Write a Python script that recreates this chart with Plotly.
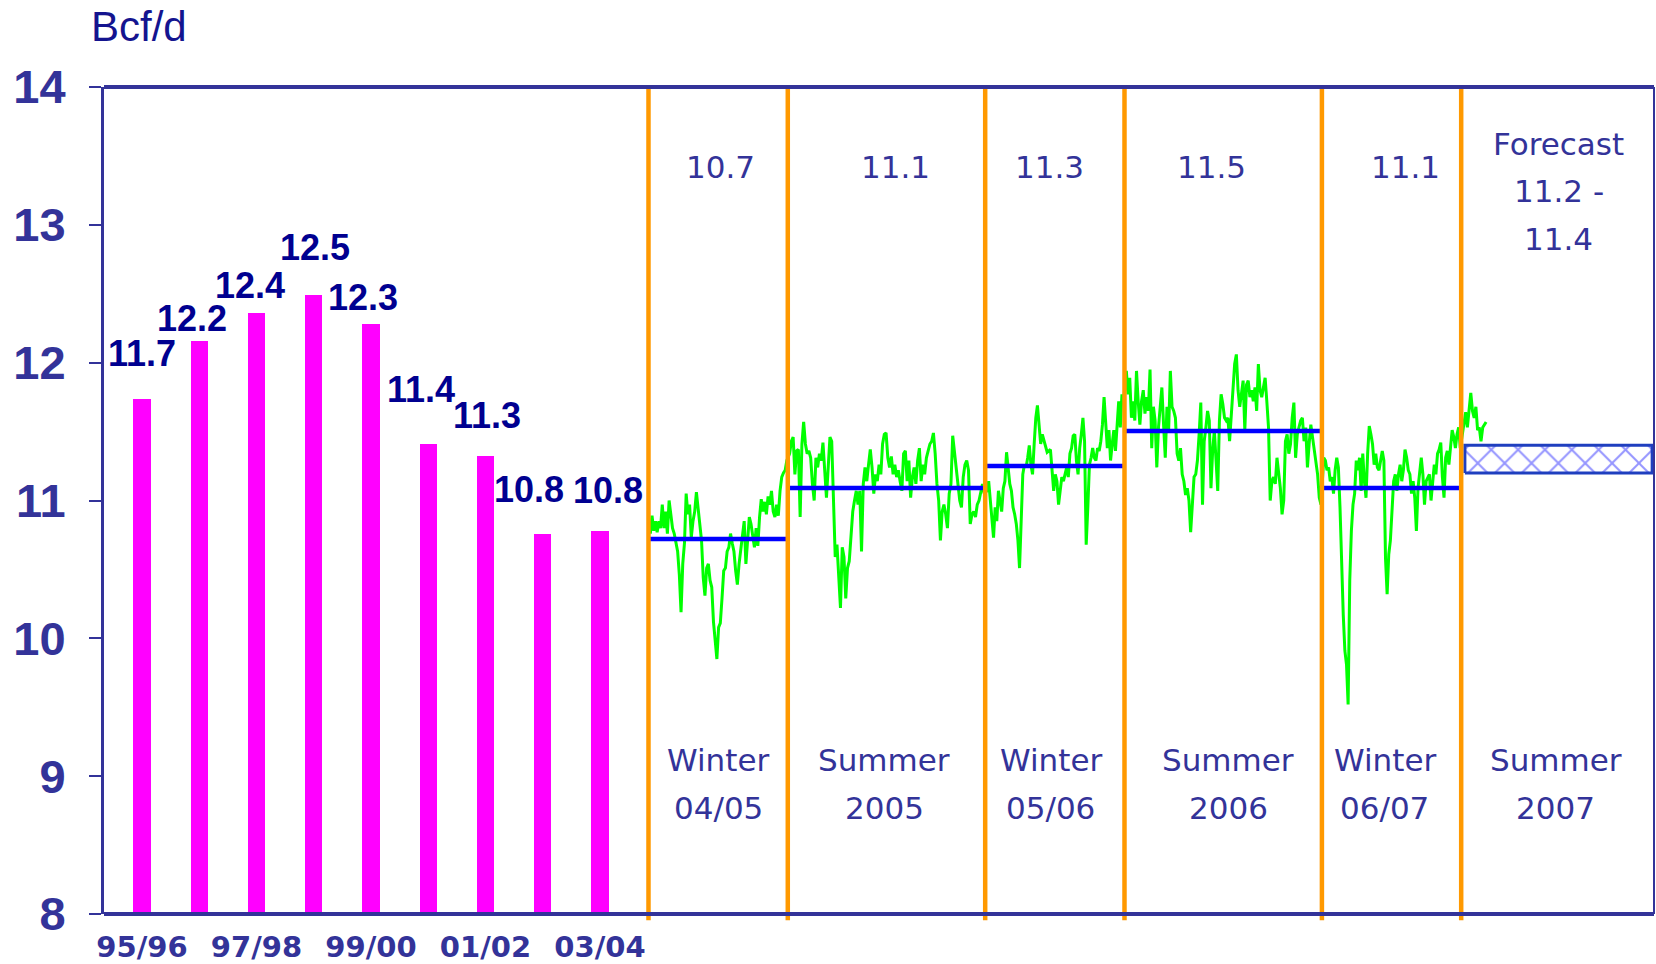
import plotly.graph_objects as go
import pandas as pd

# ---------------- data ----------------
season_labels = ["95/96", "96/97", "97/98", "98/99", "99/00", "00/01", "01/02", "02/03", "03/04"]
season_avg = [11.74, 12.16, 12.36, 12.49, 12.28, 11.41, 11.32, 10.76, 10.78]
season_avg_text = ["11.7", "12.2", "12.4", "12.5", "12.3", "11.4", "11.3", "10.8", "10.8"]
season_tick_idx = [0, 2, 4, 6, 8]

period_start = ["2004-11-01", "2005-04-01", "2005-11-01", "2006-04-01", "2006-11-01", "2007-04-01"]
period_end = ["2005-04-01", "2005-11-01", "2006-04-01", "2006-11-01", "2007-04-01", "2007-11-01"]
period_names = [["Winter", "04/05"], ["Summer", "2005"], ["Winter", "05/06"],
                ["Summer", "2006"], ["Winter", "06/07"], ["Summer", "2007"]]
period_avg = [10.72, 11.09, 11.25, 11.505, 11.09]
period_avg_text = [["10.7"], ["11.1"], ["11.3"], ["11.5"], ["11.1"], ["Forecast", "11.2 -", "11.4"]]
forecast_low = 11.2
forecast_high = 11.4
forecast_end = "2007-10-25"
latest_data_date = "2007-04-28"

w1_daily = [10.76, 10.89, 10.78, 10.85, 10.77, 10.85, 10.80, 10.97, 10.80, 10.92, 10.76, 11.00, 10.90,
            10.80, 10.76, 10.69, 10.63, 10.46, 10.19, 10.54, 10.69, 11.05, 10.90, 10.97, 10.73, 10.85,
            10.92, 11.06, 10.95, 10.85, 10.71, 10.44, 10.31, 10.51, 10.54, 10.42, 10.37, 10.12, 9.95,
            9.85, 10.08, 10.11, 10.29, 10.49, 10.51, 10.63, 10.66, 10.76, 10.69, 10.63, 10.49, 10.39,
            10.54, 10.66, 10.76, 10.85, 10.54, 10.73, 10.88, 10.83, 10.76, 10.66, 10.80, 10.67, 10.88,
            11.01, 10.92, 10.99, 10.90, 11.03, 10.97, 11.07, 10.92, 10.88, 10.97, 10.89, 11.07, 11.17,
            11.20, 11.22, 11.29]
s05_daily = [11.34, 11.43, 11.46, 11.19, 11.36, 11.37, 10.88, 11.41, 11.57, 11.41, 11.34, 11.36, 11.31,
             11.12, 11.00, 11.31, 11.24, 11.34, 11.29, 11.42, 11.17, 11.02, 11.24, 11.46, 11.43, 11.00,
             10.59, 10.68, 10.39, 10.22, 10.66, 10.59, 10.29, 10.51, 10.56, 10.75, 10.92, 11.00, 11.07,
             10.97, 11.07, 10.63, 11.12, 11.24, 11.14, 11.26, 11.37, 11.24, 11.05, 11.19, 11.14, 11.26,
             11.19, 11.41, 11.48, 11.49, 11.31, 11.24, 11.32, 11.19, 11.26, 11.17, 11.22, 11.14, 11.07,
             11.34, 11.36, 11.14, 11.29, 11.02, 11.17, 11.24, 11.12, 11.29, 11.38, 11.14, 11.26, 11.19,
             11.31, 11.36, 11.41, 11.43, 11.49, 11.34, 11.12, 11.00, 10.71, 10.92, 10.97, 10.90, 10.80,
             11.05, 11.12, 11.47, 11.36, 11.22, 11.12, 11.00, 10.95, 11.17, 11.26, 11.29, 11.22, 10.83,
             10.90, 10.92, 10.88, 10.97, 11.00, 11.07, 11.12, 11.05]
w2_daily = [11.07, 11.14, 11.02, 10.85, 10.73, 10.95, 10.85, 11.07, 11.00, 10.92, 11.09, 11.14, 11.35,
            11.22, 11.12, 11.07, 10.95, 10.90, 10.83, 10.71, 10.51, 10.85, 11.19, 11.26, 11.24, 11.31,
            11.40, 11.26, 11.19, 11.41, 11.60, 11.69, 11.55, 11.41, 11.48, 11.43, 11.38, 11.35, 11.36,
            11.37, 11.22, 11.07, 11.19, 11.14, 10.97, 11.09, 11.17, 11.14, 11.19, 11.24, 11.17, 11.34,
            11.38, 11.47, 11.48, 11.29, 11.19, 11.38, 11.48, 11.60, 11.43, 10.68, 10.95, 11.26, 11.31,
            11.38, 11.31, 11.29, 11.38, 11.36, 11.43, 11.55, 11.75, 11.60, 11.38, 11.51, 11.29, 11.41,
            11.51, 11.36, 11.55, 11.72, 11.53, 11.77, 11.72]
s06_daily = [11.94, 11.77, 11.89, 11.60, 11.72, 11.58, 11.94, 11.72, 11.55, 11.72, 11.80, 11.63, 11.75,
             11.65, 11.95, 11.38, 11.68, 11.58, 11.24, 11.53, 11.70, 11.82, 11.55, 11.31, 11.68, 11.51,
             11.94, 11.68, 11.65, 11.60, 11.34, 11.29, 11.38, 11.19, 11.14, 11.04, 11.09, 11.00, 10.77,
             10.95, 11.17, 11.19, 11.29, 11.48, 11.71, 10.97, 11.43, 11.53, 11.65, 11.58, 11.09, 11.36,
             11.51, 11.29, 11.07, 11.58, 11.77, 11.70, 11.60, 11.58, 11.60, 11.43, 11.63, 11.84, 11.99,
             12.06, 11.80, 11.68, 11.77, 11.87, 11.51, 11.84, 11.87, 11.75, 11.80, 11.72, 11.82, 11.65,
             11.99, 11.80, 11.75, 11.82, 11.89, 11.72, 11.53, 11.00, 11.14, 11.17, 11.12, 11.31, 11.19,
             11.09, 10.90, 11.00, 11.43, 11.48, 11.34, 11.41, 11.60, 11.71, 11.31, 11.48, 11.53, 11.58,
             11.60, 11.43, 11.53, 11.24, 11.41, 11.55, 11.46, 11.36, 11.29, 11.19, 11.02, 10.97]
w3_daily = [11.31, 11.29, 11.22, 11.24, 11.14, 11.17, 11.05, 11.22, 11.31, 11.24, 10.95, 10.49, 10.17,
            9.91, 9.81, 9.52, 10.42, 10.78, 10.97, 11.05, 11.29, 11.22, 11.31, 11.07, 11.34, 11.14,
            11.02, 11.34, 11.54, 11.48, 11.41, 11.26, 11.34, 11.24, 11.22, 11.29, 11.36, 11.29, 10.58,
            10.32, 10.61, 10.71, 10.90, 11.14, 11.19, 11.07, 11.19, 11.26, 11.14, 11.22, 11.37, 11.31,
            11.22, 11.19, 11.05, 11.14, 11.02, 10.78, 11.09, 11.22, 11.31, 11.19, 10.97, 11.14, 11.17,
            11.19, 11.00, 11.14, 11.26, 11.19, 11.34, 11.37, 11.42, 11.17, 11.02, 11.31, 11.36, 11.26,
            11.38, 11.51, 11.46, 11.38, 11.48, 11.53, 11.38]
s07_daily = [11.55, 11.64, 11.53, 11.68, 11.78, 11.65, 11.60, 11.68, 11.51, 11.53, 11.43, 11.53, 11.55,
             11.57]

# ---------------- style ----------------
NAVY = "#333399"
LABEL_NAVY = "#000090"
ORANGE = "#ff9900"
bar_label_shift = [(0, 45), (-7, 22), (-7, 28), (1, 48), (-8, 27), (-7, 54), (2, 41), (-14, 44), (8, 40)]
top_label_y = [13.42, 13.42, 13.42, 13.42, 13.42, 13.59]
top_label_xshift = [2, 9, -5, -12, 14, -1]
bottom_label_y = 9.115
bottom_label_xshift = [0, -2, -4, 5, -7, -4]
line_step_px = 47.5

fig = go.Figure()

# historic seasonal averages (bars)
fig.add_trace(go.Bar(
    x=list(range(len(season_avg))), y=season_avg, width=0.3,
    marker=dict(color="#ff00ff", line=dict(width=0)),
    xaxis="x", yaxis="y", hoverinfo="skip"))

# daily data
daily_sets = [w1_daily, s05_daily, w2_daily, s06_daily, w3_daily]
dx, dy = [], []
for i, vals in enumerate(daily_sets):
    s = pd.Timestamp(period_start[i]) + pd.Timedelta(days=2)
    e = pd.Timestamp(period_end[i]) - pd.Timedelta(days=1)
    dx += list(pd.date_range(s, e, periods=len(vals)))
    dy += vals
s = pd.Timestamp(period_start[5]) + pd.Timedelta(days=3)
dx += list(pd.date_range(s, pd.Timestamp(latest_data_date), periods=len(s07_daily)))
dy += s07_daily
fig.add_trace(go.Scatter(x=dx, y=dy, mode="lines", line=dict(color="#00ff00", width=3),
                         xaxis="x2", yaxis="y", hoverinfo="skip"))

# period averages
ax, ay = [], []
for i, v in enumerate(period_avg):
    ax += [pd.Timestamp(period_start[i]), pd.Timestamp(period_end[i]), None]
    ay += [v, v, None]
fig.add_trace(go.Scatter(x=ax, y=ay, mode="lines", line=dict(color="#0000ff", width=4.5),
                         xaxis="x2", yaxis="y", hoverinfo="skip", connectgaps=False))

# forecast band
fs = pd.Timestamp(period_start[5]) + pd.Timedelta(days=4)
fe = pd.Timestamp(forecast_end)
fig.add_trace(go.Scatter(
    x=[fs, fe, fe, fs, fs], y=[forecast_low, forecast_low, forecast_high, forecast_high, forecast_low],
    mode="lines", fill="toself", fillcolor="white",
    fillpattern=dict(shape="x", fgcolor="#2a2aff", bgcolor="white", size=19, solidity=0.2),
    line=dict(color="#1f3fbf", width=3), xaxis="x2", yaxis="y", hoverinfo="skip"))

annotations = []
# axis title
annotations.append(dict(text="Bcf/d", xref="paper", yref="paper", x=-0.0095, y=1.073,
                        xanchor="left", yanchor="middle", showarrow=False,
                        font=dict(family="Liberation Sans, Arial", size=42, color="#14148f")))
# bar labels
for i, t in enumerate(season_avg_text):
    annotations.append(dict(text=t, xref="x", yref="y", x=i, y=season_avg[i],
                            xanchor="center", yanchor="middle", showarrow=False,
                            xshift=bar_label_shift[i][0], yshift=bar_label_shift[i][1],
                            font=dict(family="Liberation Sans, Arial", size=36, color=LABEL_NAVY,
                                      weight="bold")))
# period labels
for i in range(6):
    mid = pd.Timestamp(period_start[i]) + (pd.Timestamp(period_end[i]) - pd.Timestamp(period_start[i])) / 2
    for k, line in enumerate(period_avg_text[i]):
        annotations.append(dict(text=line, xref="x2", yref="y", x=mid, y=top_label_y[i],
                                xanchor="center", yanchor="middle", showarrow=False,
                                xshift=top_label_xshift[i], yshift=-line_step_px * k,
                                font=dict(family="DejaVu Sans", size=31, color=NAVY)))
    for k, line in enumerate(period_names[i]):
        annotations.append(dict(text=line, xref="x2", yref="y", x=mid, y=bottom_label_y,
                                xanchor="center", yanchor="middle", showarrow=False,
                                xshift=bottom_label_xshift[i], yshift=-line_step_px * k,
                                font=dict(family="DejaVu Sans", size=31, color=NAVY)))

shapes = []
for d in period_start:
    shapes.append(dict(type="line", xref="x2", yref="paper", x0=d, x1=d, y0=-0.0075, y1=1,
                       line=dict(color=ORANGE, width=4.5)))
shapes.append(dict(type="line", xref="paper", yref="paper", x0=0, x1=1, y0=1, y1=1,
                   line=dict(color=NAVY, width=4)))
shapes.append(dict(type="line", xref="paper", yref="paper", x0=0, x1=1, y0=0, y1=0,
                   line=dict(color=NAVY, width=4)))
shapes.append(dict(type="line", xref="paper", yref="paper", x0=1, x1=1, y0=0, y1=1,
                   line=dict(color=NAVY, width=2)))

split = 0.34890
fig.update_layout(
    width=1656, height=964,
    margin=dict(l=104, r=2, t=87, b=50, autoexpand=False),
    paper_bgcolor="white", plot_bgcolor="white",
    showlegend=False, bargap=0,
    annotations=annotations, shapes=shapes,
    xaxis=dict(domain=[0, split], range=[-0.664, 8.783], anchor="y", automargin=False,
               tickmode="array", tickvals=season_tick_idx,
               ticktext=[season_labels[i] for i in season_tick_idx],
               ticks="", showline=False, showgrid=False, zeroline=False,
               ticklabelstandoff=13,
               tickfont=dict(family="DejaVu Sans", size=29, color=NAVY, weight="bold")),
    xaxis2=dict(domain=[split, 1], type="date", range=["2004-10-28", "2007-10-27"], anchor="y",
                automargin=False,
                showticklabels=False, ticks="", showline=False, showgrid=False, zeroline=False),
    yaxis=dict(range=[8, 14], tickmode="array", tickvals=[8, 9, 10, 11, 12, 13, 14],
               ticks="outside", ticklen=12, tickwidth=2, tickcolor=NAVY, automargin=False,
               showline=True, linecolor=NAVY, linewidth=3, showgrid=False, zeroline=False,
               anchor="x", ticklabelstandoff=14,
               tickfont=dict(family="Liberation Sans, Arial", size=47, color=NAVY, weight="bold")),
)

fig.write_html("out.html", config={"displayModeBar": False},
               post_script="document.body.style.margin='0px';")
